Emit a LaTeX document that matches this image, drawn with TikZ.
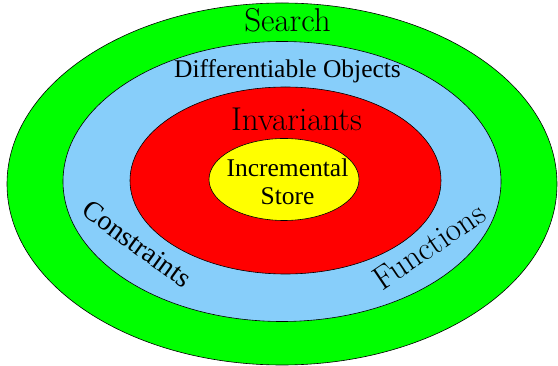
\documentclass[tikz,border=0pt]{standalone}
\usepackage{fontspec}
\newfontfamily\tms{Liberation Serif}
\begin{document}
\begin{tikzpicture}[x=1pt,y=-1pt,
  ring/.style={draw=black,line width=0.6pt},
  lmtext/.style={inner sep=0pt,anchor=base,font=\fontsize{33}{36}\selectfont},
  tmtext/.style={inner sep=0pt,anchor=base,font=\tms\fontsize{25.5}{28}\selectfont}]
\useasboundingbox (0,0) rectangle (558,366);
\fill[ring,fill={rgb,255:red,0;green,255;blue,0}] (282,184) ellipse [x radius=275,y radius=181];
\fill[ring,fill={rgb,255:red,135;green,206;blue,250}] (282,181.5) ellipse [x radius=219,y radius=140];
\fill[ring,fill={rgb,255:red,255;green,0;blue,0}] (285.5,180.5) ellipse [x radius=155.5,y radius=93.5];
\fill[ring,fill={rgb,255:red,255;green,255;blue,0}] (284,179.5) ellipse [x radius=75,y radius=41];
\node[lmtext] (search) at (287.5,32) {Search};
\node[tmtext] (diff) at (287.5,78) {Differentiable Objects};
\node[lmtext] (inv) at (296.5,131) {Invariants};
\node[tmtext] (inc) at (287.5,177) {Incremental};
\node[tmtext] (store) at (287.5,205) {Store};
\node[inner sep=0pt,font=\tms\fontsize{28}{30}\selectfont,rotate=-36] (cons) at (137,244) {Constraints};
\node[inner sep=0pt,font=\fontsize{33}{36}\selectfont,rotate=34] (func) at (429,246) {Functions};
\end{tikzpicture}
\end{document}
